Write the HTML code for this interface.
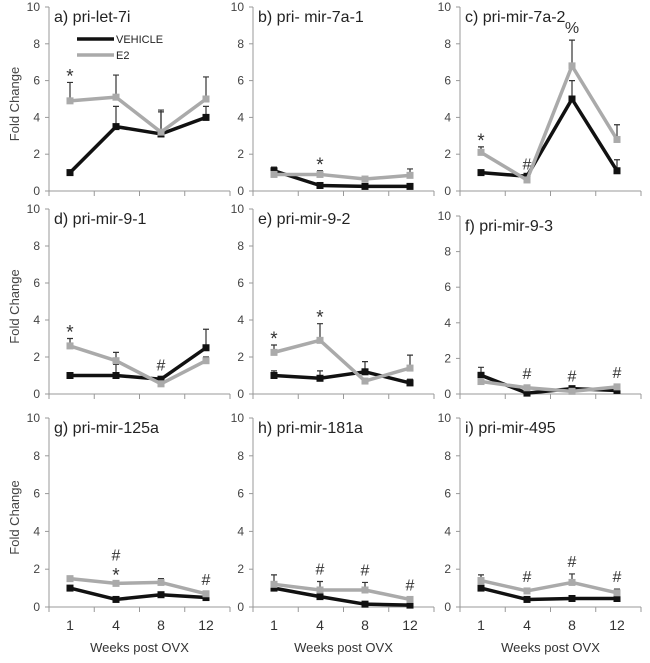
<!DOCTYPE html>
<html><head><meta charset="utf-8">
<style>
body{margin:0;background:#fff;}
svg{display:block;font-family:"Liberation Sans",Arial,sans-serif;}
</style></head>
<body>
<svg id="fig" width="650" height="663" viewBox="0 0 650 663"></svg>
<script>
const categories = ["1","4","8","12"];
const yTicks = [0,2,4,6,8,10];
const titles = ["a) pri-let-7i","b) pri- mir-7a-1","c) pri-mir-7a-2","d) pri-mir-9-1","e) pri-mir-9-2","f) pri-mir-9-3","g) pri-mir-125a","h) pri-mir-181a","i) pri-mir-495"];
const vehicle = [[1.0,3.5,3.1,4.0],[1.1,0.3,0.25,0.25],[1.0,0.8,5.0,1.1],[1.0,1.0,0.8,2.5],[1.0,0.85,1.2,0.6],[1.05,0.05,0.3,0.2],[1.0,0.4,0.65,0.5],[1.0,0.55,0.15,0.1],[1.0,0.4,0.45,0.45]];
const vehicleErr = [[0,1.1,1.2,0.6],[0.2,0,0,0],[0,0,1.0,0.6],[0.1,0.6,0.1,1.0],[0.25,0.4,0.55,0.2],[0.45,0,0,0],[0.1,0,0,0],[0,0,0,0],[0,0,0,0]];
const e2 = [[4.9,5.1,3.2,5.0],[0.9,0.9,0.65,0.85],[2.1,0.6,6.8,2.8],[2.6,1.8,0.55,1.8],[2.25,2.9,0.7,1.4],[0.7,0.35,0.15,0.4],[1.5,1.25,1.3,0.7],[1.2,0.9,0.9,0.4],[1.4,0.85,1.3,0.75]];
const e2Err = [[1.0,1.2,1.2,1.2],[0.2,0.2,0.1,0.35],[0.3,0,1.4,0.8],[0.4,0.45,0,0.2],[0.4,0.9,0,0.7],[0,0.1,0,0.1],[0.1,0.1,0.2,0.1],[0.5,0.45,0.4,0.1],[0.3,0.1,0.45,0.2]];
const marks = [[["*"],[],[],[]],[[],["*"],[],[]],[["*"],["#"],["%"],[]],[["*"],[],["#"],[]],[["*"],["*"],[],[]],[[],["#"],["#"],["#"]],[[],["*","#"],[],["#"]],[[],["#"],["#"],["#"]],[[],["#"],["#"],["#"]]];

const NS="http://www.w3.org/2000/svg";
const svg=document.getElementById('fig');
function mk(tag,attrs,parent,txt){const e=document.createElementNS(NS,tag);for(const k in attrs)e.setAttribute(k,attrs[k]);if(txt!==undefined)e.textContent=txt;(parent||svg).appendChild(e);return e;}
const colX=[49,253,460], rowY0=[191,394,607], rowY10=[7,209,418];
const catOff=[21,67,112,157], axisLen=181;

for(let p=0;p<9;p++){
  const r=Math.floor(p/3), c=p%3;
  const ax=colX[c], y0=rowY0[r], y10=(p===5?216:rowY10[r]);
  const ys=v=>y0-(v/10)*(y0-y10);
  const xs=i=>ax+catOff[i];
  const g=mk('g',{});
  
  
  const ya=mk('line',{x1:ax,y1:y10,x2:ax,y2:y0,stroke:'#999','stroke-width':1},g);
  
  const xa=mk('line',{x1:ax,y1:y0,x2:ax+axisLen,y2:y0,stroke:'#999','stroke-width':1},g);
  
  for(let k=0;k<5;k++){const tx=ax+k*axisLen/4;mk('line',{x1:tx,y1:y0,x2:tx,y2:y0+5,stroke:'#999'},g);}
  yTicks.forEach(t=>{
    mk('line',{x1:ax-4,y1:ys(t),x2:ax,y2:ys(t),stroke:'#999'},g);
    const tl=mk('text',{x:ax-9,y:ys(t)+4,'text-anchor':'end','font-size':12,fill:'#444'},g,String(t));
    
  });
  const tt=mk('text',{x:ax+5,y:y10+15,'font-size':16,fill:'#222'},g,titles[p]);
  
  if(c===0){
    const yl=mk('text',{x:0,y:0,'font-size':13,fill:'#444','text-anchor':'middle',transform:`translate(19,${(y0+y10)/2+5}) rotate(-90)`},g,'Fold Change');
    
  }
  if(r===2){
    categories.forEach((cat,i)=>{
      const cl=mk('text',{x:xs(i),y:y0+23,'text-anchor':'middle','font-size':14,fill:'#333'},g,cat);
      
    });
    const xt=mk('text',{x:ax+axisLen/2,y:652,'text-anchor':'middle','font-size':13,fill:'#333'},g,'Weeks post OVX');
    
  }
  const series=[{v:vehicle[p],e:vehicleErr[p],col:'#111',n:'vehicle'},{v:e2[p],e:e2Err[p],col:'#aaa',n:'e2'}];
  series.forEach(s=>{
    s.v.forEach((v,i)=>{
      if(s.e[i]>0){
        const eb=mk('path',{d:`M${xs(i)},${ys(v)}V${ys(v+s.e[i])}M${xs(i)-3},${ys(v+s.e[i])}H${xs(i)+3}`,stroke:'#333','stroke-width':1.2,fill:'none'},g);
        
      }
    });
  });
  series.forEach(s=>{
    const pl=mk('polyline',{points:s.v.map((v,i)=>xs(i)+','+ys(v)).join(' '),fill:'none',stroke:s.col,'stroke-width':3.5,'stroke-linejoin':'round'},g);
    
    s.v.forEach((v,i)=>{
      const m=mk('rect',{x:xs(i)-3.5,y:ys(v)-3.5,width:7,height:7,fill:s.col},g);
      
    });
  });
  marks[p].forEach((arr,i)=>{
    if(!arr.length)return;
    const top=Math.max(e2[p][i]+e2Err[p][i],vehicle[p][i]+vehicleErr[p][i]);
    let yy=ys(top)-7;
    arr.forEach(sym=>{
      const st=mk('text',{x:xs(i),y:yy+(sym==='*'?7:0),'text-anchor':'middle','font-size':sym==='*'?19:16,fill:'#333'},g,sym);
      
      yy-=14;
    });
  });
}
// legend
const lg=mk('g',{});

mk('line',{x1:77,y1:39,x2:114,y2:39,stroke:'#111','stroke-width':3.5},lg);
const l1=mk('text',{x:116,y:43,'font-size':11,fill:'#222'},lg,'VEHICLE');

mk('line',{x1:77,y1:55,x2:114,y2:55,stroke:'#aaa','stroke-width':3.5},lg);
const l2=mk('text',{x:116,y:59,'font-size':11,fill:'#222'},lg,'E2');

</script>
</body></html>
